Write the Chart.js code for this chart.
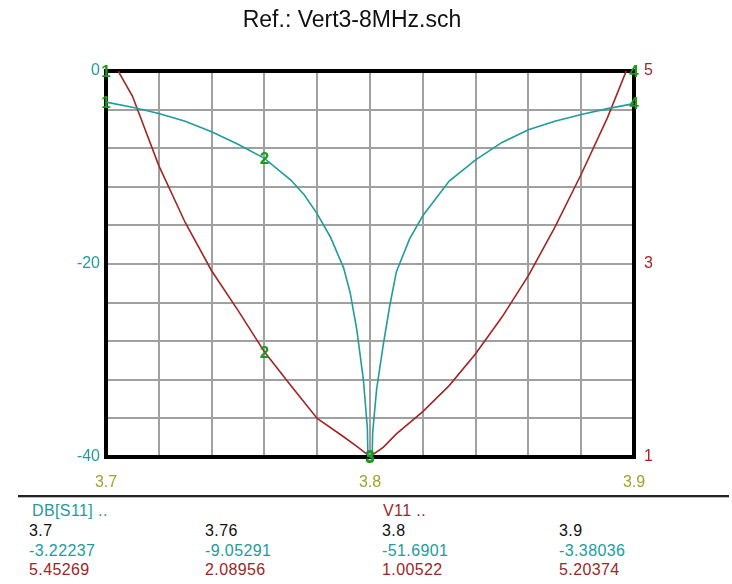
<!DOCTYPE html>
<html>
<head>
<meta charset="utf-8">
<script src="https://cdn.jsdelivr.net/npm/chart.js@4.4.1/dist/chart.umd.min.js"></script>
<style>
  body { margin: 0; background: #fff; font-family: Arial, "Liberation Sans", sans-serif; }
  #wrap { position: relative; width: 732px; height: 584px; overflow: hidden; }
  #title { position: absolute; left: 0; width: 704px; top: 6px; text-align: center; font-size: 23px; color: #111; }
  #chartBox { position: absolute; left: 0; top: 0; width: 732px; height: 500px; }
  #rule { position: absolute; left: 18px; width: 711px; top: 495px; height: 2px; background: #222; border-bottom: 1px solid #bbb; }
  .cell { position: absolute; font-size: 16px; letter-spacing: 0.4px; line-height: 18px; white-space: nowrap; }
</style>
</head>
<body>
<div id="wrap">
  <div id="chartBox"><canvas id="c" width="732" height="500"></canvas></div>
  <div id="title">Ref.: Vert3-8MHz.sch</div>
  <div id="rule"></div>
  <div id="table"></div>
</div>
<script>
// sweep of DB[S11] (left axis)
const freqS11 = [3.70, 3.71, 3.72, 3.73, 3.74, 3.75, 3.76, 3.77, 3.775, 3.78, 3.785, 3.79, 3.7925, 3.795, 3.7975, 3.799,
  3.80, 3.801, 3.8025, 3.805, 3.8075, 3.81, 3.815, 3.82, 3.83, 3.84, 3.85, 3.86, 3.87, 3.88, 3.89, 3.90];
const dbS11 = [-3.22, -3.75, -4.4, -5.2, -6.3, -7.6, -9.05, -11.3, -12.8, -14.8, -17.2, -20.4, -23.0, -26.8, -32.0, -37.0,
  -51.69, -37.5, -33.0, -28.4, -24.3, -20.8, -17.4, -15.0, -11.4, -9.2, -7.4, -6.1, -5.2, -4.5, -3.9, -3.38];

// sweep of V11 / VSWR (right axis)
const freqV11 = [3.70, 3.705, 3.71, 3.72, 3.73, 3.74, 3.75, 3.76, 3.77, 3.78, 3.79, 3.795, 3.80, 3.805, 3.81, 3.82,
  3.83, 3.84, 3.85, 3.86, 3.87, 3.88, 3.89, 3.90];
const v11 = [5.45, 4.98, 4.74, 4.02, 3.43, 2.93, 2.52, 2.09, 1.74, 1.40, 1.21, 1.11, 1.005, 1.10, 1.24, 1.47,
  1.74, 2.07, 2.45, 2.88, 3.38, 3.93, 4.52, 5.20];

// markers 1..4 and the readout table
const markerLabels = ['1', '2', '3', '4'];
const markerFreq = [3.7, 3.76, 3.8, 3.9];
const markerDb = ['-3.22237', '-9.05291', '-51.6901', '-3.38036'];
const markerV = ['5.45269', '2.08956', '1.00522', '5.20374'];

const xTicks = [3.7, 3.8, 3.9];
const dbTicks = [0, -20, -40];
const vTicks = [5, 3, 1];

const TEAL = '#219c9c';
const RED = '#a02626';
const OLIVE = '#a2a22c';
const GREEN = '#1c9a1c';
const GRID = '#a0a0a0';

const pick = (list) => (v) => list.some(t => Math.abs(t - v) < 1e-6) ? String(+v.toFixed(2)) : '';

const framePlugin = {
  id: 'frame',
  beforeDatasetsDraw(chart) {
    const { ctx, chartArea: a } = chart;
    ctx.save();
    ctx.strokeStyle = '#000';
    ctx.lineWidth = 4;
    ctx.strokeRect(a.left, a.top, a.right - a.left, a.bottom - a.top);
    ctx.restore();
  }
};

const markerPlugin = {
  id: 'markers',
  afterDatasetsDraw(chart) {
    const { ctx, scales } = chart;
    ctx.save();
    ctx.font = 'bold 17px Arial';
    ctx.fillStyle = GREEN;
    ctx.textAlign = 'center';
    ctx.textBaseline = 'middle';
    markerFreq.forEach((f, i) => {
      const x = scales.x.getPixelForValue(f);
      const d = Math.max(-40, Math.min(0, parseFloat(markerDb[i])));
      const v = Math.max(1, Math.min(5, parseFloat(markerV[i])));
      ctx.fillText(markerLabels[i], x, scales.y.getPixelForValue(d) + 1);
      ctx.fillText(markerLabels[i], x, scales.y1.getPixelForValue(v) + 1);
    });
    ctx.restore();
  }
};

new Chart(document.getElementById('c'), {
  type: 'line',
  data: {
    datasets: [
      {
        label: 'DB[S11]',
        data: freqS11.map((f, i) => ({ x: f, y: dbS11[i] })),
        borderColor: TEAL, borderWidth: 1.6, pointRadius: 0, tension: 0, yAxisID: 'y'
      },
      {
        label: 'V11',
        data: freqV11.map((f, i) => ({ x: f, y: v11[i] })),
        borderColor: RED, borderWidth: 1.6, pointRadius: 0, tension: 0, yAxisID: 'y1'
      }
    ]
  },
  options: {
    responsive: false,
    animation: false,
    layout: { padding: { top: 71, left: 0, right: 0, bottom: 0 } },
    plugins: { legend: { display: false }, tooltip: { enabled: false }, title: { display: false } },
    scales: {
      x: {
        type: 'linear', min: 3.7, max: 3.9,
        afterFit: (s) => { s.height = 43; },
        grid: { color: GRID, lineWidth: 2, drawTicks: false },
        border: { display: false },
        ticks: { stepSize: 0.02, autoSkip: false, maxRotation: 0, padding: 16, color: OLIVE,
          font: { family: 'Arial', size: 16 }, callback: pick(xTicks) }
      },
      y: {
        position: 'left', min: -40, max: 0,
        afterFit: (s) => { s.width = 106; },
        grid: { color: GRID, lineWidth: 2, drawTicks: false },
        border: { display: false },
        ticks: { stepSize: 4, autoSkip: false, padding: 6, color: TEAL,
          font: { family: 'Arial', size: 16 }, callback: pick(dbTicks) }
      },
      y1: {
        position: 'right', min: 1, max: 5,
        afterFit: (s) => { s.width = 98; },
        grid: { display: false, drawTicks: false },
        border: { display: false },
        ticks: { stepSize: 0.4, autoSkip: false, padding: 10, color: RED,
          font: { family: 'Arial', size: 16 }, callback: pick(vTicks) }
      }
    }
  },
  plugins: [framePlugin, markerPlugin]
});

// readout table under the chart
const table = document.getElementById('table');
const colX = [29, 205, 382, 559];
function cell(text, x, y, color) {
  const d = document.createElement('div');
  d.className = 'cell';
  d.textContent = text;
  d.style.left = x + 'px';
  d.style.top = (y - 9) + 'px';
  d.style.color = color;
  table.appendChild(d);
}
cell('DB[S11] ..', 32, 511, TEAL);
cell('V11 ..', 383, 511, RED);
markerFreq.forEach((f, i) => {
  cell(String(f), colX[i], 531, '#111');
  cell(markerDb[i], colX[i], 551, TEAL);
  cell(markerV[i], colX[i], 570, RED);
});
</script>
</body>
</html>
